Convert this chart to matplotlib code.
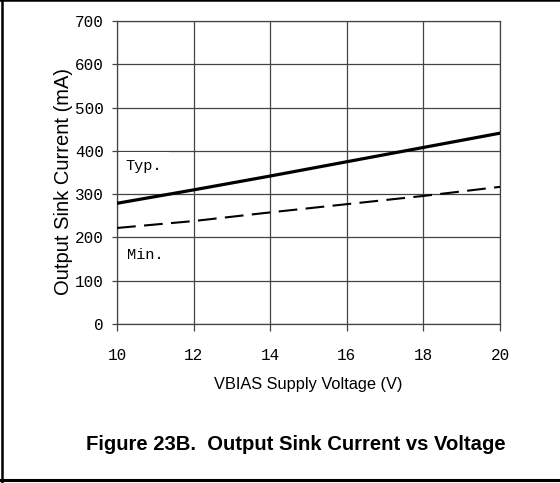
import matplotlib
matplotlib.use('Agg')
import matplotlib.pyplot as plt
from matplotlib.lines import Line2D

# values
vbias = [10, 12, 14, 16, 18, 20]
sink_typ = [279, 310, 342, 375, 408, 441]
sink_min = [222, 238, 258, 277, 296, 317]
xticks = [10, 12, 14, 16, 18, 20]
yticks = [0, 100, 200, 300, 400, 500, 600, 700]

grid_col = '#444444'
mono = 'Liberation Mono'
sans = 'Liberation Sans'

fig = plt.figure(figsize=(5.6, 4.83), dpi=100)
ax = fig.add_axes([0.209, 0.329, 0.684, 0.6275])

ax.plot(vbias, sink_typ, color='black', lw=2.3, zorder=3)
ax.plot(vbias, sink_min, color='black', lw=1.5, dashes=(9, 4), zorder=3)

ax.set_xlim(10, 20)
ax.set_ylim(0, 700)
ax.set_xticks(xticks)
ax.set_yticks(yticks)
ax.grid(True, color=grid_col, lw=0.9)
ax.set_axisbelow(True)
for s in ax.spines.values():
    s.set_color(grid_col)
    s.set_linewidth(0.9)

ax.tick_params(axis='y', direction='out', length=3.5, width=0.9, color=grid_col, pad=6)
ax.tick_params(axis='x', direction='out', length=5, width=0.9, color=grid_col, pad=12)
for lab in ax.get_xticklabels() + ax.get_yticklabels():
    lab.set_family(mono)
    lab.set_fontsize(11.5)

ax.set_xlabel('VBIAS Supply Voltage (V)', family=sans, fontsize=11.8)
ax.set_ylabel('Output Sink Current (mA)', family=sans, fontsize=14.5)
ax.xaxis.set_label_coords(0.5, -0.176)
ax.yaxis.set_label_coords(-0.115, 0.472)

# labels on the curves; Typ. sits in a white box over the 400 line
ax.text(10.22, 365, 'Typ.', family=mono, fontsize=11, va='center', ha='left',
        bbox=dict(fc='white', ec='none', pad=5), zorder=2)
ax.text(10.26, 159, 'Min.', family=mono, fontsize=11, va='center', ha='left', zorder=2)

fig.text(296 / 560, 1 - 445 / 483, 'Figure 23B.  Output Sink Current vs Voltage',
         family=sans, fontsize=14.6, fontweight='bold', ha='center', va='center')

# outer frame (no right edge in the crop)
fig.add_artist(Line2D([0, 1], [0.999, 0.999], transform=fig.transFigure, color='black', lw=1.8))
fig.add_artist(Line2D([0.003, 0.003], [0, 1], transform=fig.transFigure, color='black', lw=1.8))
fig.add_artist(Line2D([0, 1], [1 - 480 / 483, 1 - 480 / 483], transform=fig.transFigure, color='black', lw=2.2))

fig.savefig('out.png', dpi=100)
